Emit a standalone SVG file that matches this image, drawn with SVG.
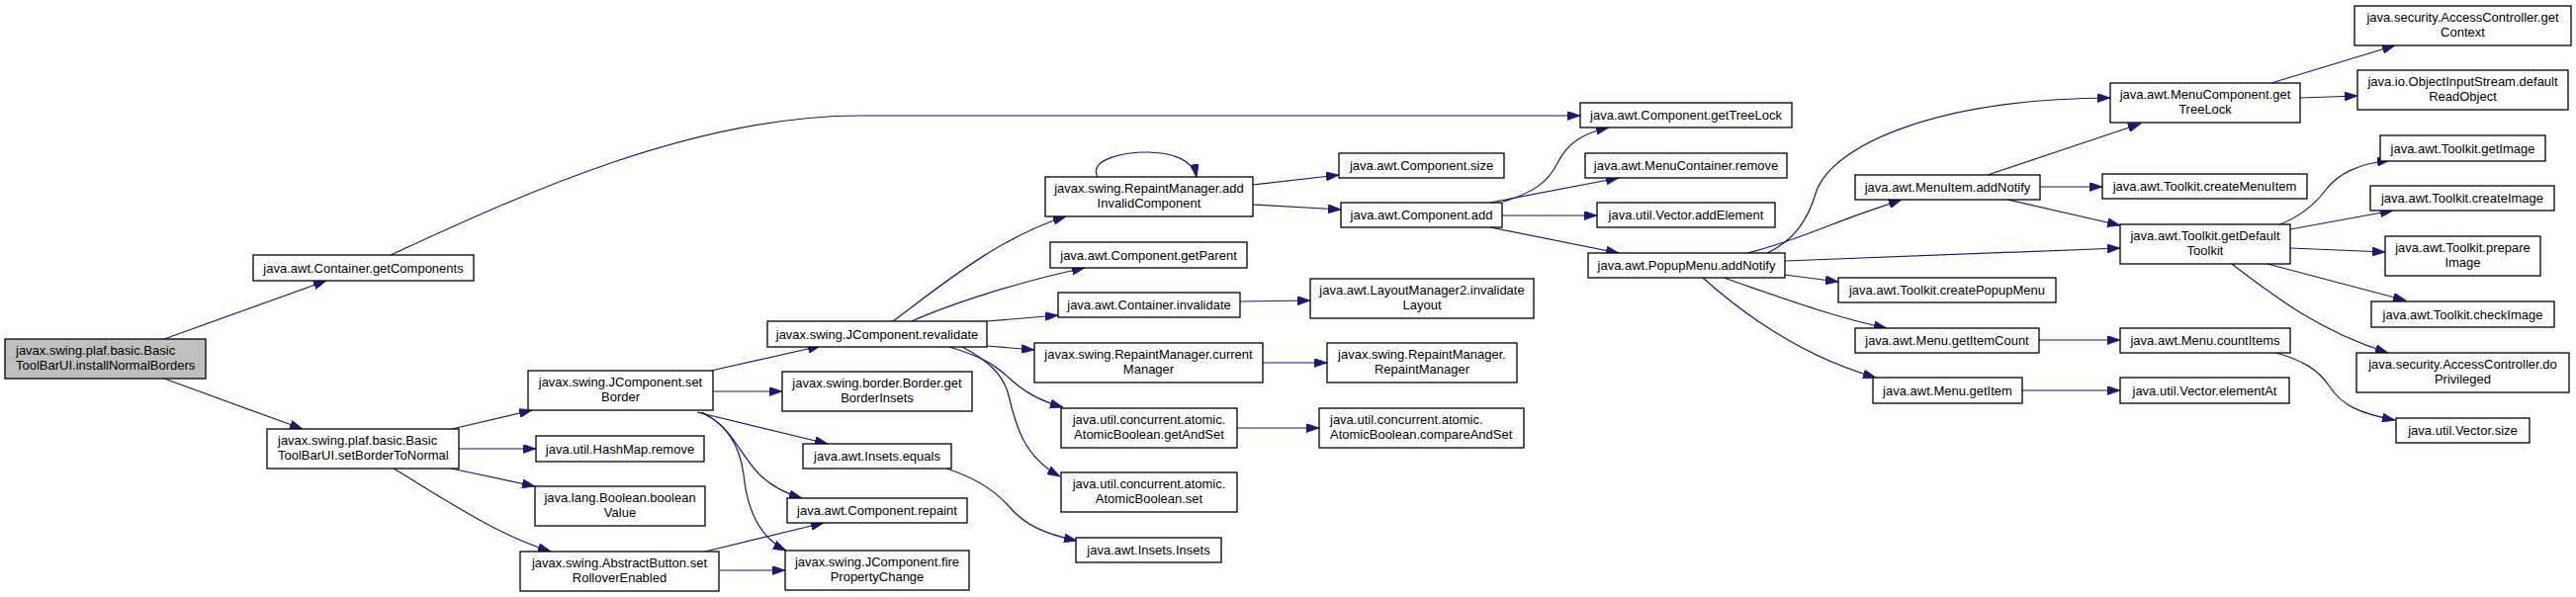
<svg xmlns="http://www.w3.org/2000/svg" width="2605" height="604" viewBox="0 0 2605 604">
<style>
.nd rect{fill:#fff;stroke:#000;stroke-width:1.3}
.root rect{fill:#bfbfbf}
text{font-family:"Liberation Sans",Arial,sans-serif;font-size:13px;fill:#000}
.c{text-anchor:middle}
.l{text-anchor:start}
#edges path{fill:none;stroke:#191970;stroke-width:1.2;marker-end:url(#ah)}
</style>
<defs>
<marker id="ah" viewBox="0 0 13 9" markerWidth="13" markerHeight="9" refX="13" refY="4.5" orient="auto" markerUnits="userSpaceOnUse">
<path d="M0,0 L13,4.5 L0,9 z" fill="#191970" stroke="#191970" stroke-width="0.8"/>
</marker>
</defs>
<rect width="2605" height="604" fill="#fff"/>
<g id="edges">
<path d="M166,343 L330,284"/>
<path d="M166,383 L306,434"/>
<path d="M395,258 C525,198 700,117 870,117 L1598,117"/>
<path d="M457,434 L538,415"/>
<path d="M464,454 L542,454"/>
<path d="M456,474 L541,492"/>
<path d="M398,474 C450,505 500,540 557,558"/>
<path d="M719,375 L830,350"/>
<path d="M721,396 L791,396"/>
<path d="M705,417 L837,449"/>
<path d="M707,417 C740,428 748,462 770,482 C782,493 797,500 811,504"/>
<path d="M710,417 C735,430 748,450 752,480 C756,520 770,545 795,557"/>
<path d="M713,558 L833,529"/>
<path d="M728,577 L794,577"/>
<path d="M903,325 C950,290 1010,240 1078,219"/>
<path d="M922,325 C960,308 1030,285 1097,271"/>
<path d="M998,325 L1070,319"/>
<path d="M998,350 L1046,354"/>
<path d="M960,351 C990,360 1005,368 1020,382 C1035,396 1050,405 1075,412"/>
<path d="M973,351 C1000,365 1015,380 1020,400 C1027,430 1035,462 1072,482"/>
<path d="M957,474 C985,483 1005,495 1020,512 C1035,530 1055,540 1089,547"/>
<path d="M1110,179 C1100,160 1140,154 1160,154 C1185,154 1207,162 1210,179"/>
<path d="M1267,187 L1354,177"/>
<path d="M1267,207 L1356,212"/>
<path d="M1254,305 L1325,304"/>
<path d="M1277,367 L1342,367"/>
<path d="M1251,433 L1334,433"/>
<path d="M1520,204 C1550,195 1565,185 1575,165 C1585,145 1600,135 1627,129"/>
<path d="M1507,205 L1637,180"/>
<path d="M1519,218 L1615,218"/>
<path d="M1507,230 L1637,256"/>
<path d="M1787,256 C1815,243 1828,222 1836,196 C1850,150 1950,100 2134,99"/>
<path d="M1767,256 C1800,248 1830,236 1853,227 C1875,218 1900,210 1923,202"/>
<path d="M1805,264 L2144,251"/>
<path d="M1805,278 L1859,285"/>
<path d="M1743,281 C1790,297 1850,320 1908,332"/>
<path d="M1722,281 C1760,315 1820,360 1897,382"/>
<path d="M2010,177 L2165,125"/>
<path d="M2063,189 L2126,189"/>
<path d="M2030,202 L2144,228"/>
<path d="M2062,344 L2144,344"/>
<path d="M2045,395 L2144,395"/>
<path d="M2297,84 L2422,46"/>
<path d="M2326,99 L2384,97"/>
<path d="M2303,228 C2325,220 2340,208 2352,192 C2365,175 2385,166 2417,162"/>
<path d="M2316,232 L2420,213"/>
<path d="M2316,251 L2412,255"/>
<path d="M2293,267 L2433,304"/>
<path d="M2257,267 C2300,300 2345,335 2415,357"/>
<path d="M2302,357 C2330,365 2345,375 2355,390 C2368,410 2385,418 2422,425"/>
</g>
<g id="n1" class="nd root"><rect x="5" y="343" width="203" height="40"/><text class="l" x="16" y="359">javax.swing.plaf.basic.Basic</text><text class="l" x="16" y="374">ToolBarUI.installNormalBorders</text></g>
<g id="n2" class="nd"><rect x="256" y="258" width="223" height="26"/><text class="c" x="367.5" y="275.5">java.awt.Container.getComponents</text></g>
<g id="n3" class="nd"><rect x="270" y="434" width="194" height="40"/><text class="l" x="281" y="450">javax.swing.plaf.basic.Basic</text><text class="l" x="281" y="465">ToolBarUI.setBorderToNormal</text></g>
<g id="n4" class="nd"><rect x="534" y="375" width="187" height="40"/><text class="c" x="627.5" y="391">javax.swing.JComponent.set</text><text class="c" x="627.5" y="406">Border</text></g>
<g id="n5" class="nd"><rect x="542" y="441" width="170" height="26"/><text class="c" x="627" y="458.5">java.util.HashMap.remove</text></g>
<g id="n6" class="nd"><rect x="541" y="492" width="172" height="40"/><text class="c" x="627" y="508">java.lang.Boolean.boolean</text><text class="c" x="627" y="523">Value</text></g>
<g id="n7" class="nd"><rect x="526" y="558" width="201" height="40"/><text class="c" x="626.5" y="574">javax.swing.AbstractButton.set</text><text class="c" x="626.5" y="589">RolloverEnabled</text></g>
<g id="n8" class="nd"><rect x="776" y="325" width="222" height="26"/><text class="c" x="887" y="342.5">javax.swing.JComponent.revalidate</text></g>
<g id="n9" class="nd"><rect x="791" y="376" width="192" height="40"/><text class="c" x="887" y="392">javax.swing.border.Border.get</text><text class="c" x="887" y="407">BorderInsets</text></g>
<g id="n10" class="nd"><rect x="812" y="449" width="150" height="25"/><text class="c" x="887" y="466">java.awt.Insets.equals</text></g>
<g id="n11" class="nd"><rect x="796" y="504" width="182" height="25"/><text class="c" x="887" y="521">java.awt.Component.repaint</text></g>
<g id="n12" class="nd"><rect x="794" y="557" width="186" height="40"/><text class="c" x="887" y="573">javax.swing.JComponent.fire</text><text class="c" x="887" y="588">PropertyChange</text></g>
<g id="n13" class="nd"><rect x="1057" y="179" width="210" height="40"/><text class="c" x="1162" y="195">javax.swing.RepaintManager.add</text><text class="c" x="1162" y="210">InvalidComponent</text></g>
<g id="n14" class="nd"><rect x="1062" y="245" width="199" height="26"/><text class="c" x="1161.5" y="262.5">java.awt.Component.getParent</text></g>
<g id="n15" class="nd"><rect x="1070" y="296" width="184" height="25"/><text class="c" x="1162" y="313">java.awt.Container.invalidate</text></g>
<g id="n16" class="nd"><rect x="1046" y="347" width="231" height="40"/><text class="c" x="1161.5" y="363">javax.swing.RepaintManager.current</text><text class="c" x="1161.5" y="378">Manager</text></g>
<g id="n17" class="nd"><rect x="1073" y="413" width="178" height="40"/><text class="c" x="1162" y="429">java.util.concurrent.atomic.</text><text class="c" x="1162" y="444">AtomicBoolean.getAndSet</text></g>
<g id="n18" class="nd"><rect x="1073" y="478" width="178" height="40"/><text class="c" x="1162" y="494">java.util.concurrent.atomic.</text><text class="c" x="1162" y="509">AtomicBoolean.set</text></g>
<g id="n19" class="nd"><rect x="1088" y="544" width="147" height="25"/><text class="c" x="1161.5" y="561">java.awt.Insets.Insets</text></g>
<g id="n20" class="nd"><rect x="1354" y="155" width="167" height="25"/><text class="c" x="1437.5" y="172">java.awt.Component.size</text></g>
<g id="n21" class="nd"><rect x="1356" y="205" width="163" height="25"/><text class="c" x="1437.5" y="222">java.awt.Component.add</text></g>
<g id="n22" class="nd"><rect x="1325" y="282" width="226" height="40"/><text class="c" x="1438" y="298">java.awt.LayoutManager2.invalidate</text><text class="c" x="1438" y="313">Layout</text></g>
<g id="n23" class="nd"><rect x="1342" y="347" width="192" height="40"/><text class="c" x="1438" y="363">javax.swing.RepaintManager.</text><text class="c" x="1438" y="378">RepaintManager</text></g>
<g id="n24" class="nd"><rect x="1334" y="413" width="207" height="40"/><text class="l" x="1345" y="429">java.util.concurrent.atomic.</text><text class="l" x="1345" y="444">AtomicBoolean.compareAndSet</text></g>
<g id="n25" class="nd"><rect x="1598" y="104" width="214" height="25"/><text class="c" x="1705" y="121">java.awt.Component.getTreeLock</text></g>
<g id="n26" class="nd"><rect x="1603" y="155" width="204" height="25"/><text class="c" x="1705" y="172">java.awt.MenuContainer.remove</text></g>
<g id="n27" class="nd"><rect x="1615" y="205" width="180" height="25"/><text class="c" x="1705" y="222">java.util.Vector.addElement</text></g>
<g id="n28" class="nd"><rect x="1606" y="256" width="199" height="25"/><text class="c" x="1705.5" y="273">java.awt.PopupMenu.addNotify</text></g>
<g id="n29" class="nd"><rect x="1876" y="177" width="187" height="25"/><text class="c" x="1969.5" y="194">java.awt.MenuItem.addNotify</text></g>
<g id="n30" class="nd"><rect x="1859" y="281" width="220" height="25"/><text class="c" x="1969" y="298">java.awt.Toolkit.createPopupMenu</text></g>
<g id="n31" class="nd"><rect x="1876" y="332" width="186" height="25"/><text class="c" x="1969" y="349">java.awt.Menu.getItemCount</text></g>
<g id="n32" class="nd"><rect x="1894" y="382" width="151" height="26"/><text class="c" x="1969.5" y="399.5">java.awt.Menu.getItem</text></g>
<g id="n33" class="nd"><rect x="2134" y="84" width="192" height="40"/><text class="c" x="2230" y="100">java.awt.MenuComponent.get</text><text class="c" x="2230" y="115">TreeLock</text></g>
<g id="n34" class="nd"><rect x="2126" y="176" width="207" height="25"/><text class="c" x="2229.5" y="193">java.awt.Toolkit.createMenuItem</text></g>
<g id="n35" class="nd"><rect x="2144" y="227" width="172" height="40"/><text class="c" x="2230" y="243">java.awt.Toolkit.getDefault</text><text class="c" x="2230" y="258">Toolkit</text></g>
<g id="n36" class="nd"><rect x="2144" y="332" width="172" height="25"/><text class="c" x="2230" y="349">java.awt.Menu.countItems</text></g>
<g id="n37" class="nd"><rect x="2144" y="382" width="171" height="26"/><text class="c" x="2229.5" y="399.5">java.util.Vector.elementAt</text></g>
<g id="n38" class="nd"><rect x="2381" y="6" width="219" height="40"/><text class="c" x="2490.5" y="22">java.security.AccessController.get</text><text class="c" x="2490.5" y="37">Context</text></g>
<g id="n39" class="nd"><rect x="2384" y="71" width="213" height="40"/><text class="c" x="2490.5" y="87">java.io.ObjectInputStream.default</text><text class="c" x="2490.5" y="102">ReadObject</text></g>
<g id="n40" class="nd"><rect x="2407" y="137" width="167" height="26"/><text class="c" x="2490.5" y="154.5">java.awt.Toolkit.getImage</text></g>
<g id="n41" class="nd"><rect x="2397" y="188" width="186" height="25"/><text class="c" x="2490" y="205">java.awt.Toolkit.createImage</text></g>
<g id="n42" class="nd"><rect x="2412" y="239" width="157" height="40"/><text class="c" x="2490.5" y="255">java.awt.Toolkit.prepare</text><text class="c" x="2490.5" y="270">Image</text></g>
<g id="n43" class="nd"><rect x="2398" y="305" width="185" height="26"/><text class="c" x="2490.5" y="322.5">java.awt.Toolkit.checkImage</text></g>
<g id="n44" class="nd"><rect x="2383" y="357" width="215" height="40"/><text class="c" x="2490.5" y="373">java.security.AccessController.do</text><text class="c" x="2490.5" y="388">Privileged</text></g>
<g id="n45" class="nd"><rect x="2423" y="423" width="135" height="25"/><text class="c" x="2490.5" y="440">java.util.Vector.size</text></g>
</svg>
